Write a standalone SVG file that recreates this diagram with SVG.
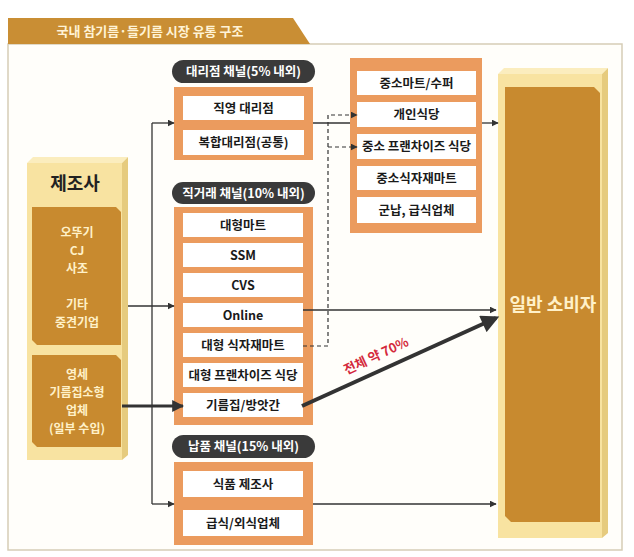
<svg xmlns="http://www.w3.org/2000/svg" width="634" height="557" viewBox="0 0 634 557">
<style>
text{font-family:"Noto Sans CJK KR","Noto Sans",sans-serif;font-weight:700;text-anchor:middle}
.row{fill:#fff}
.orange{fill:#EB9B5E}
.rt{font-size:12.5px;fill:#1a1a1a}
.pill{fill:#3a3a3a}
.pt{font-size:12.5px;fill:#fff}
.gt{font-size:12px;fill:#FFF1C9}
.ln{fill:none;stroke:#333;stroke-width:1.3}
.dash{fill:none;stroke:#333;stroke-width:1.2;stroke-dasharray:4 3}
</style>
<defs>
<marker id="ar" viewBox="0 0 10 10" refX="9" refY="5" markerWidth="7" markerHeight="7" markerUnits="userSpaceOnUse" orient="auto"><path d="M0,0L10,5L0,10z" fill="#333"/></marker>
<marker id="arb" viewBox="0 0 10 10" refX="9" refY="5" markerWidth="12" markerHeight="12" markerUnits="userSpaceOnUse" orient="auto"><path d="M0,0L10,5L0,10z" fill="#333"/></marker>
<marker id="arc" viewBox="0 0 10 10" refX="8" refY="5" markerWidth="20" markerHeight="18" markerUnits="userSpaceOnUse" orient="auto"><path d="M0,0L10,5L0,10z" fill="#333"/></marker>
</defs>
<rect width="634" height="557" fill="#fff"/>
<rect x="8" y="44" width="614" height="506" fill="#FFFEFA" stroke="#D6CDB6" stroke-width="1.5"/>
<g id="title">
<polygon points="8,18 293,18 310,44 8,44" fill="#C98E34"/>
<text x="150" y="36" style="font-size:13px;fill:#FFF3D6">국내 참기름·들기름 시장 유통 구조</text>
</g>
<g id="manufacturer">
<rect x="27" y="163" width="95" height="297" fill="#F8E3A1"/>
<polygon points="27,163 33,157 128,157 122,163" fill="#FBEDBE"/>
<polygon points="122,163 128,157 128,455 122,460" fill="#E6CB7E"/>
<text x="75" y="190" style="font-size:18px;fill:#222">제조사</text>
<path d="M32,207 H116 L121,212 V345 H37 L32,340 Z" fill="#C88A2F"/>
<text class="gt" x="77" y="237"><tspan x="77">오뚜기</tspan><tspan x="77" dy="18">CJ</tspan><tspan x="77" dy="18">사조</tspan><tspan x="77" dy="36">기타</tspan><tspan x="77" dy="18">중견기업</tspan></text>
<path d="M32,355 H116 L121,360 V447 H37 L32,442 Z" fill="#C88A2F"/>
<text class="gt" x="77" y="379"><tspan x="77">영세</tspan><tspan x="77" dy="18">기름집소형</tspan><tspan x="77" dy="18">업체</tspan><tspan x="77" dy="18">(일부 수입)</tspan></text>
</g>
<g id="agency-channel">
<rect class="pill" x="172" y="60" width="143" height="23" rx="11.5"/>
<text class="pt" x="243.5" y="76">대리점 채널(5% 내외)</text>
<rect class="orange" x="174" y="87" width="139" height="73"/>
<rect class="row" x="183" y="96" width="121" height="24"/>
<text class="rt" x="243.5" y="113">직영 대리점</text>
<rect class="row" x="183" y="130" width="121" height="25"/>
<text class="rt" x="243.5" y="147">복합대리점(공통)</text>
</g>
<g id="direct-channel">
<rect class="pill" x="172" y="182" width="143" height="22" rx="11"/>
<text class="pt" x="243.5" y="197.5">직거래 채널(10% 내외)</text>
<rect class="orange" x="174" y="207" width="139" height="218"/>
<rect class="row" x="183" y="213" width="120" height="24"/>
<text class="rt" x="243" y="229.5">대형마트</text>
<rect class="row" x="183" y="243" width="120" height="24"/>
<text class="rt" x="243" y="259.5">SSM</text>
<rect class="row" x="183" y="273" width="120" height="24"/>
<text class="rt" x="243" y="289.5">CVS</text>
<rect class="row" x="183" y="303" width="120" height="24"/>
<text class="rt" x="243" y="319.5">Online</text>
<rect class="row" x="183" y="333" width="120" height="24"/>
<text class="rt" x="243" y="349.5">대형 식자재마트</text>
<rect class="row" x="183" y="363" width="120" height="24"/>
<text class="rt" x="243" y="379.5">대형 프랜차이즈 식당</text>
<rect class="row" x="183" y="393" width="120" height="24"/>
<text class="rt" x="243" y="409.5">기름집/방앗간</text>
</g>
<g id="supply-channel">
<rect class="pill" x="172" y="435" width="143" height="23" rx="11.5"/>
<text class="pt" x="243.5" y="451">납품 채널(15% 내외)</text>
<rect class="orange" x="174" y="462" width="139" height="83"/>
<rect class="row" x="183" y="471" width="120" height="26"/>
<text class="rt" x="243" y="488.5">식품 제조사</text>
<rect class="row" x="183" y="510" width="120" height="26"/>
<text class="rt" x="243" y="527.5">급식/외식업체</text>
</g>
<g id="small-channel">
<rect class="orange" x="350" y="58" width="132" height="175"/>
<rect class="row" x="357" y="71" width="119" height="24"/>
<text class="rt" x="416.5" y="87.5">중소마트/수퍼</text>
<rect class="row" x="357" y="102" width="119" height="25"/>
<text class="rt" x="416.5" y="119">개인식당</text>
<rect class="row" x="357" y="134" width="119" height="25"/>
<text class="rt" x="416.5" y="151">중소 프랜차이즈 식당</text>
<rect class="row" x="357" y="166" width="119" height="24"/>
<text class="rt" x="416.5" y="182.5">중소식자재마트</text>
<rect class="row" x="357" y="197" width="119" height="26"/>
<text class="rt" x="416.5" y="214.5">군납, 급식업체</text>
</g>
<g id="consumer">
<rect x="498" y="74" width="104" height="464" fill="#F8E3A1"/>
<polygon points="498,74 504,68 608,68 602,74" fill="#FBEDBE"/>
<polygon points="602,74 608,68 608,533 602,538" fill="#E6CB7E"/>
<path d="M505,87 H594 L600,93 V522 H511 L505,516 Z" fill="#C88A2F"/>
<text x="553" y="311" style="font-size:18px;fill:#FFF1C9">일반 소비자</text>
</g>
<g id="connectors">
<path class="ln" d="M152,123 V504"/>
<path class="ln" d="M152,123 H174" marker-end="url(#ar)"/>
<path class="ln" d="M128,306 H174" marker-end="url(#ar)"/>
<path class="ln" d="M152,504 H174" marker-end="url(#ar)"/>
<path fill="none" stroke="#333" stroke-width="3" d="M122,406 H183" marker-end="url(#arb)"/>
<path class="ln" d="M313,123 H350"/>
<path class="dash" d="M303,346 H328 V115 H357" marker-end="url(#ar)"/>
<path class="dash" d="M328,147 H357" marker-end="url(#ar)"/>
<path class="ln" d="M482,123 H498" marker-end="url(#ar)"/>
<path class="ln" d="M303,310 H496" marker-end="url(#ar)"/>
<path class="ln" d="M313,504 H496" marker-end="url(#ar)"/>
<path fill="none" stroke="#333" stroke-width="4" d="M302,406 L496,318" marker-end="url(#arc)"/>
<text x="378" y="360" transform="rotate(-25 378 360)" style="font-size:13px;fill:#D42A3C">전체 약 70%</text>
</g>
</svg>
